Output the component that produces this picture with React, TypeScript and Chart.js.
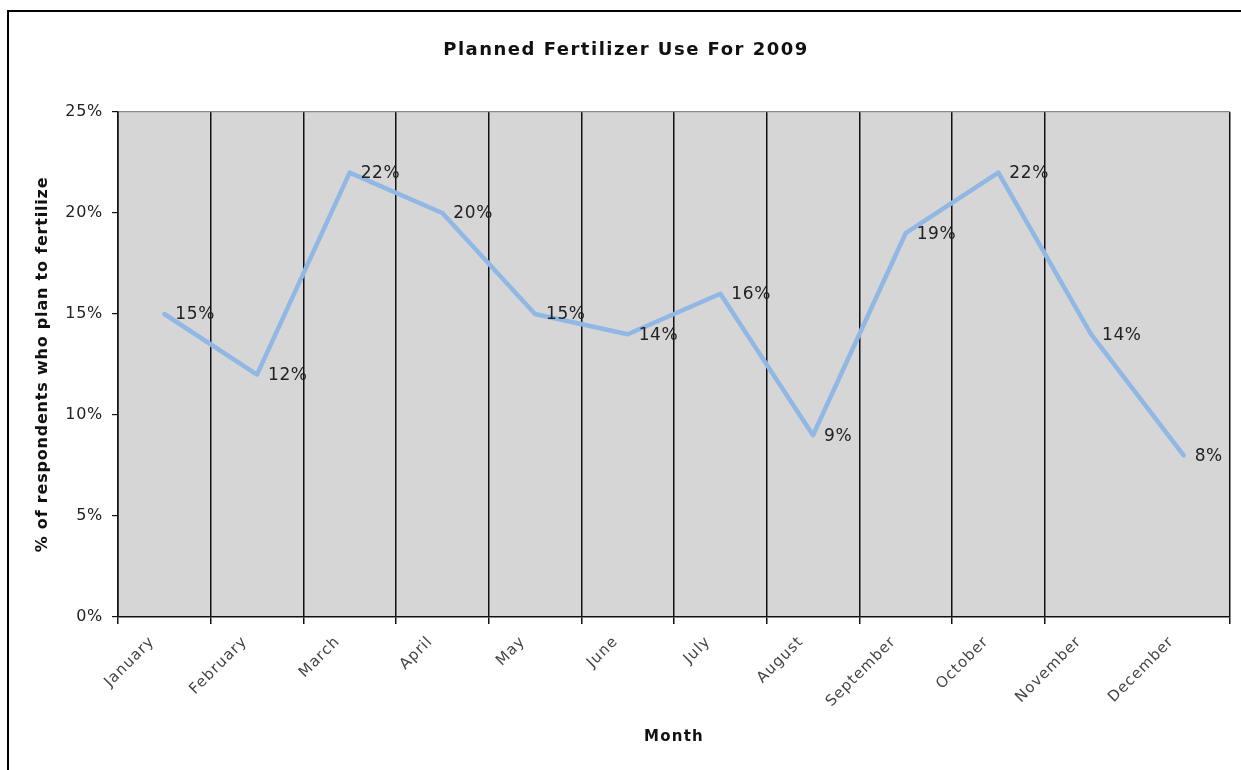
import React, { useEffect, useRef } from "react";
import { Chart, registerables } from "chart.js";

Chart.register(...registerables);

// Planned fertilizer use by month, as % of respondents
const chartTitle = "Planned Fertilizer Use For 2009";
const months = [
  "January", "February", "March", "April", "May", "June",
  "July", "August", "September", "October", "November", "December",
];
const plannedShare = [15, 12, 22, 20, 15, 14, 16, 9, 19, 22, 14, 8];
const yTicks = [0, 5, 10, 15, 20, 25];

const FONT = "'DejaVu Sans', Verdana, sans-serif";

// Extra tracking for each font size / weight used on the chart
const boldTracking: Record<number, number> = { 18: 1.5, 16: 0.8, 15: 1.2 };
const normalTracking: Record<number, number> = { 17: 0.6, 16: 0.7, 15: 1 };

function trackingFor(font: string): string {
  const bold = /bold|700/.test(font);
  const m = font.match(/(\d+(?:\.\d+)?)px/);
  const size = m ? Math.round(parseFloat(m[1])) : 12;
  const table = bold ? boldTracking : normalTracking;
  return `${table[size] ?? 0}px`;
}

function addTracking(ctx: CanvasRenderingContext2D) {
  const desc = Object.getOwnPropertyDescriptor(CanvasRenderingContext2D.prototype, "font");
  if (!desc || !desc.get || !desc.set) return;
  Object.defineProperty(ctx, "font", {
    configurable: true,
    get() {
      return desc.get!.call(this);
    },
    set(v: string) {
      desc.set!.call(this, v);
      (this as any).letterSpacing = trackingFor(v);
    },
  });
}

// Gray fill behind the plotting area
const plotBackground = {
  id: "plotBackground",
  beforeDraw(chart: any) {
    const { ctx, chartArea } = chart;
    ctx.save();
    ctx.fillStyle = "#d6d6d6";
    ctx.fillRect(chartArea.left, chartArea.top, chartArea.right - chartArea.left, chartArea.bottom - chartArea.top);
    ctx.restore();
  },
};

// Heading, centred a little right of the canvas middle
const headline = {
  id: "headline",
  afterDraw(chart: any) {
    const { ctx } = chart;
    ctx.save();
    ctx.font = `bold 18px ${FONT}`;
    ctx.fillStyle = "#111";
    ctx.textAlign = "center";
    ctx.textBaseline = "middle";
    ctx.fillText(chartTitle, 626, 50);
    ctx.restore();
  },
};

// Percentage labels to the right of each point
const valueLabels = {
  id: "valueLabels",
  afterDatasetsDraw(chart: any) {
    const { ctx } = chart;
    const meta = chart.getDatasetMeta(0);
    const data = chart.data.datasets[0].data as number[];
    ctx.save();
    ctx.font = `17px ${FONT}`;
    ctx.fillStyle = "#222";
    ctx.textAlign = "left";
    ctx.textBaseline = "middle";
    meta.data.forEach((pt: any, i: number) => {
      ctx.fillText(`${data[i]}%`, pt.x + 11, pt.y + 1);
    });
    ctx.restore();
  },
};

export default function App() {
  const canvasRef = useRef<HTMLCanvasElement | null>(null);

  useEffect(() => {
    const canvas = canvasRef.current;
    if (!canvas) return;
    const context = canvas.getContext("2d");
    if (context) addTracking(context);
    const chart = new Chart(canvas, {
      type: "line",
      data: {
        labels: months,
        datasets: [
          {
            data: plannedShare,
            borderColor: "#91b7e4",
            borderWidth: 4.5,
            pointRadius: 0,
            pointHoverRadius: 0,
            tension: 0,
            borderJoinStyle: "round",
            borderCapStyle: "round",
            fill: false,
          },
        ],
      },
      options: {
        responsive: false,
        animation: false,
        events: [],
        layout: { padding: { left: 0, right: 11, top: 112, bottom: 0 } },
        plugins: {
          legend: { display: false },
          tooltip: { enabled: false },
          title: { display: false },
        },
        scales: {
          x: {
            type: "category",
            offset: true,
            grid: {
              offset: true,
              drawOnChartArea: true,
              lineWidth: 1.5,
              tickLength: 7,
              color: (c: any) => {
                if (c.index === 11) return "rgba(0,0,0,0)";
                if (c.index === 12) return "#8a8a8a";
                return "#111";
              },
            },
            border: { display: true, color: "#111", width: 1.5 },
            ticks: {
              autoSkip: false,
              minRotation: 45,
              maxRotation: 45,
              labelOffset: -12,
              padding: 9,
              color: "#444",
              font: { family: FONT, size: 15 },
            },
            title: {
              display: true,
              text: "Month",
              color: "#111",
              font: { family: FONT, size: 15, weight: "bold" },
              padding: { top: 0, bottom: 24 },
            },
            afterFit: (scale: any) => {
              scale.height = 153;
            },
          },
          y: {
            min: 0,
            max: 25,
            afterBuildTicks: (scale: any) => {
              scale.ticks = yTicks.map((v) => ({ value: v }));
            },
            grid: {
              drawOnChartArea: true,
              tickLength: 6,
              tickColor: "#111",
              lineWidth: 1.2,
              color: (c: any) => (c.tick && c.tick.value === 25 ? "#8a8a8a" : "rgba(0,0,0,0)"),
            },
            border: { display: true, color: "#111", width: 1.5 },
            ticks: {
              padding: 9,
              color: "#222",
              font: { family: FONT, size: 16 },
              callback: (v: any) => `${v}%`,
            },
            title: {
              display: true,
              text: "% of respondents who plan to fertilize",
              color: "#111",
              font: { family: FONT, size: 16, weight: "bold" },
              padding: { top: 33, bottom: 0 },
            },
            afterFit: (scale: any) => {
              scale.width = 118;
            },
          },
        },
      },
      plugins: [plotBackground, valueLabels, headline],
    });
    return () => chart.destroy();
  }, []);

  return (
    <div>
      <div
        style={{
          position: "fixed",
          left: 7,
          top: 10,
          width: 1400,
          height: 900,
          borderTop: "2px solid #000",
          borderLeft: "2px solid #000",
          background: "#fff",
        }}
      />
      <canvas
        ref={canvasRef}
        width={1241}
        height={770}
        style={{ position: "fixed", left: 0, top: 0, width: 1241, height: 770 }}
      />
    </div>
  );
}
